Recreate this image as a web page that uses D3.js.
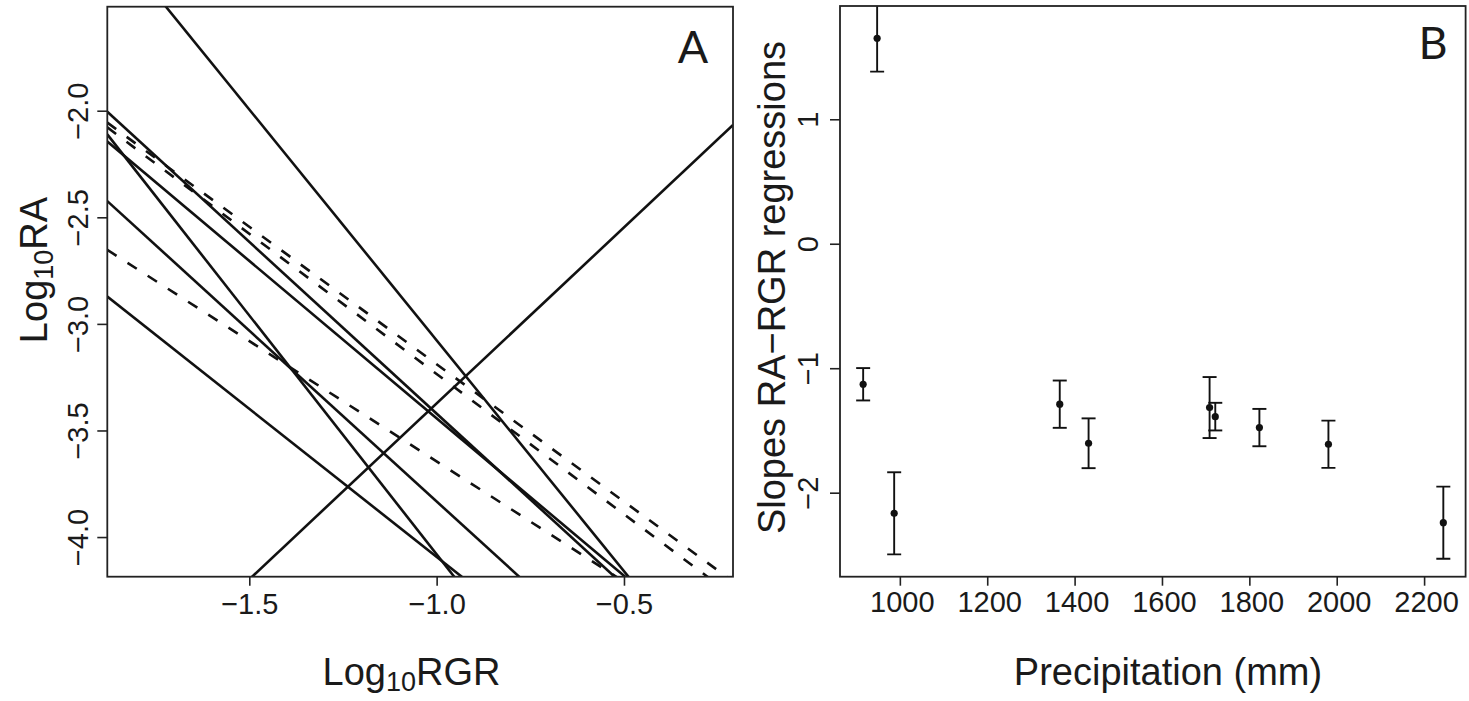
<!DOCTYPE html>
<html>
<head>
<meta charset="utf-8">
<script src="https://cdn.jsdelivr.net/npm/d3@7"></script>
<style>
  html, body { margin: 0; padding: 0; background: #ffffff; }
  svg { display: block; }
  text { font-family: "Liberation Sans", Arial, sans-serif; fill: #1a1a1a; }
</style>
</head>
<body>
<script>
// ---------------- data ----------------
// one regression per site (ordered by precipitation)
const precipitation = [916, 948, 987, 1366, 1432, 1709, 1722, 1823, 1981, 2244];
const slopes        = [-1.129, 1.651, -2.166, -1.289, -1.603, -1.316, -1.389, -1.477, -1.611, -2.241];
const slopeSE       = [0.13, 0.268, 0.33, 0.19, 0.20, 0.245, 0.111, 0.15, 0.19, 0.29];
const intercepts    = [-4.774, -1.722, -5.243, -4.478, -5.436, -4.551, -5.482, -4.920, -5.032, -6.322];
const significant   = [false, true, true, false, true, false, true, true, true, true];

const ticksA_x = [-1.5, -1.0, -0.5];
const ticksA_y = [-4.0, -3.5, -3.0, -2.5, -2.0];
const ticksB_x = [1000, 1200, 1400, 1600, 1800, 2000, 2200];
const ticksB_y = [-2, -1, 0, 1];

const domainA_x = [-1.879, -0.209];
const domainA_y = [-4.186, -1.512];
const domainB_x = [863, 2295];
const domainB_y = [-2.675, 1.910];

// ---------------- layout ----------------
const W = 1469, H = 701;
const A = {l: 107.3, r: 733, t: 6.7, b: 576.7};
const B = {l: 840, r: 1465.6, t: 6, b: 576.7};
const fmtMinus = s => s.replace("-", "\u2212");
const TICK_FS = 29;

const svg = d3.select("body").append("svg").attr("width", W).attr("height", H);
svg.append("rect").attr("width", W).attr("height", H).attr("fill", "#fff");

const xA = d3.scaleLinear().domain(domainA_x).range([A.l, A.r]);
const yA = d3.scaleLinear().domain(domainA_y).range([A.b, A.t]);
const xB = d3.scaleLinear().domain(domainB_x).range([B.l, B.r]);
const yB = d3.scaleLinear().domain(domainB_y).range([B.b, B.t]);

const defs = svg.append("defs");
defs.append("clipPath").attr("id", "clipA").append("rect")
  .attr("x", A.l).attr("y", A.t).attr("width", A.r - A.l).attr("height", A.b - A.t);
defs.append("clipPath").attr("id", "clipB").append("rect")
  .attr("x", B.l).attr("y", B.t).attr("width", B.r - B.l).attr("height", B.b - B.t);

function styleAxis(g, fs) {
  g.select(".domain").remove();
  g.selectAll(".tick line").attr("stroke", "#222").attr("stroke-width", 1.6);
  g.selectAll(".tick text").attr("font-size", fs).attr("fill", "#1a1a1a")
    .style("font-family", '"Liberation Sans", Arial, sans-serif');
}

// ---------------- Panel A ----------------
const regs = precipitation.map((p, i) => ({a: intercepts[i], b: slopes[i], sig: significant[i]}));
const gA = svg.append("g").attr("clip-path", "url(#clipA)");
gA.selectAll("line.reg").data(regs).join("line")
  .attr("class", "reg")
  .attr("x1", xA(domainA_x[0])).attr("x2", xA(domainA_x[1]))
  .attr("y1", d => yA(d.a + d.b * domainA_x[0]))
  .attr("y2", d => yA(d.a + d.b * domainA_x[1]))
  .attr("stroke", "#111").attr("stroke-width", 2.6)
  .attr("stroke-dasharray", d => d.sig ? null : "11,13");

const axAx = svg.append("g").attr("transform", `translate(0,${A.b})`)
  .call(d3.axisBottom(xA).tickValues(ticksA_x).tickSize(9).tickFormat(d => fmtMinus(d3.format(".1f")(d))));
styleAxis(axAx, TICK_FS);
axAx.selectAll(".tick text").attr("y", 0).attr("dy", 0).attr("transform", "translate(0,37.5)");

const axAy = svg.append("g").attr("transform", `translate(${A.l},0)`)
  .call(d3.axisLeft(yA).tickValues(ticksA_y).tickSize(10).tickFormat(d => fmtMinus(d3.format(".1f")(d))));
styleAxis(axAy, TICK_FS);
axAy.selectAll(".tick text").attr("x", 0).attr("dy", 0).attr("y", 0)
  .attr("text-anchor", "middle").attr("transform", "translate(-19.5,0) rotate(-90)");

svg.append("rect").attr("x", A.l).attr("y", A.t).attr("width", A.r - A.l).attr("height", A.b - A.t)
  .attr("fill", "none").attr("stroke", "#222").attr("stroke-width", 1.8);

svg.append("text").attr("x", 693).attr("y", 63).attr("text-anchor", "middle")
  .attr("font-size", 45).style("font-family", "Lato, 'Liberation Sans', sans-serif").text("A");

// axis titles A
const tAx = svg.append("text").attr("x", 411.5).attr("y", 685).attr("text-anchor", "middle").attr("font-size", 38);
tAx.append("tspan").text("Log");
tAx.append("tspan").attr("font-size", 27).attr("dy", 6).text("10");
tAx.append("tspan").attr("dy", -6).text("RGR");

const tAy = svg.append("text").attr("transform", "translate(47,270) rotate(-90)").attr("text-anchor", "middle").attr("font-size", 38);
tAy.append("tspan").text("Log");
tAy.append("tspan").attr("font-size", 27).attr("dy", 6).text("10");
tAy.append("tspan").attr("dy", -6).text("RA");

// ---------------- Panel B ----------------
const pts = precipitation.map((p, i) => ({x: p, y: slopes[i], se: slopeSE[i]}));
const gB = svg.append("g").attr("clip-path", "url(#clipB)");
const cap = 7;
gB.selectAll("line.err").data(pts).join("line").attr("class", "err")
  .attr("x1", d => xB(d.x)).attr("x2", d => xB(d.x))
  .attr("y1", d => yB(d.y + d.se)).attr("y2", d => yB(d.y - d.se))
  .attr("stroke", "#111").attr("stroke-width", 1.9);
gB.selectAll("line.capT").data(pts).join("line").attr("class", "capT")
  .attr("x1", d => xB(d.x) - cap).attr("x2", d => xB(d.x) + cap)
  .attr("y1", d => yB(d.y + d.se)).attr("y2", d => yB(d.y + d.se))
  .attr("stroke", "#111").attr("stroke-width", 1.9);
gB.selectAll("line.capB").data(pts).join("line").attr("class", "capB")
  .attr("x1", d => xB(d.x) - cap).attr("x2", d => xB(d.x) + cap)
  .attr("y1", d => yB(d.y - d.se)).attr("y2", d => yB(d.y - d.se))
  .attr("stroke", "#111").attr("stroke-width", 1.9);
gB.selectAll("circle").data(pts).join("circle")
  .attr("cx", d => xB(d.x)).attr("cy", d => yB(d.y)).attr("r", 3.6).attr("fill", "#111");

const axBx = svg.append("g").attr("transform", `translate(0,${B.b})`)
  .call(d3.axisBottom(xB).tickValues(ticksB_x).tickSize(9).tickFormat(d3.format("d")));
styleAxis(axBx, TICK_FS);
axBx.selectAll(".tick text").attr("y", 0).attr("dy", 0).attr("transform", "translate(2,35)");

const axBy = svg.append("g").attr("transform", `translate(${B.l},0)`)
  .call(d3.axisLeft(yB).tickValues(ticksB_y).tickSize(10).tickFormat(d => fmtMinus(String(d))));
styleAxis(axBy, TICK_FS);
axBy.selectAll(".tick text").attr("x", 0).attr("dy", 0).attr("y", 0)
  .attr("text-anchor", "middle").attr("transform", "translate(-22.5,0) rotate(-90)");

svg.append("rect").attr("x", B.l).attr("y", B.t).attr("width", B.r - B.l).attr("height", B.b - B.t)
  .attr("fill", "none").attr("stroke", "#222").attr("stroke-width", 1.8);

svg.append("text").attr("x", 1433).attr("y", 59).attr("text-anchor", "middle")
  .attr("font-size", 45).style("font-family", "Lato, 'Liberation Sans', sans-serif").text("B");

svg.append("text").attr("x", 1168).attr("y", 685).attr("text-anchor", "middle")
  .attr("font-size", 38).text("Precipitation (mm)");
svg.append("text").attr("transform", "translate(785,287.5) rotate(-90)").attr("text-anchor", "middle")
  .attr("font-size", 38).text("Slopes RA\u2212RGR regressions");
</script>
</body>
</html>
